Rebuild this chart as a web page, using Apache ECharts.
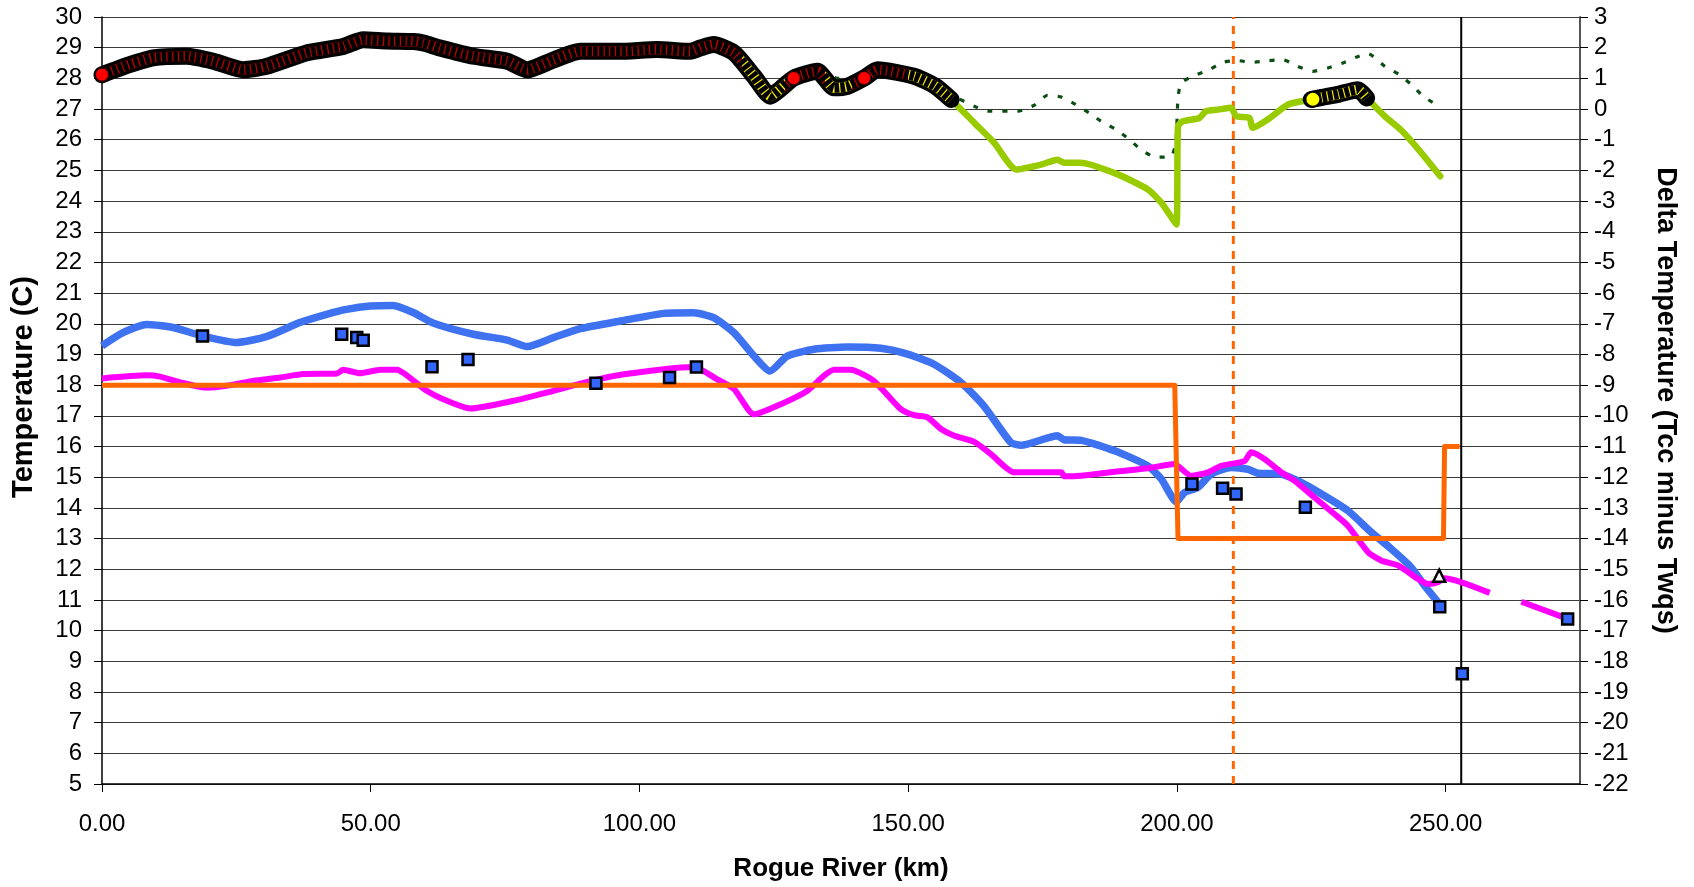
<!DOCTYPE html>
<html>
<head>
<meta charset="utf-8">
<title>Rogue River temperature profile</title>
<script src="https://cdn.jsdelivr.net/npm/echarts@6/dist/echarts.min.js"></script>
<style>
  html, body { margin: 0; padding: 0; background: #fff; }
  #chart { width: 1694px; height: 887px; }
</style>
</head>
<body>
<div id="chart"></div>
<script>
// River distance (km) and simulated temperature profiles (C)
const blueKm = [0, 3.9, 8.3, 13.2, 18.8, 25, 30.6, 36.8, 41.8, 45.5, 49.9, 54.2, 58, 61.7, 69.1, 75.4, 79.1, 84, 89, 96.5, 104.5, 110.1, 113.8, 117.6, 121.3, 124.3, 127.5, 132.5, 138.7, 144.9, 149.9, 154.8, 159.8, 164.1, 169.1, 171, 177.8, 179, 182.2, 188.4, 194.6, 197.1, 199.9, 201.4, 203.9, 206.4, 210.1, 213.2, 215.1, 219.4, 223.1, 226.9, 231.8, 236.2, 239.9, 243.6, 246.1, 248.6];
const blueTemp = [19.28, 19.71, 19.98, 19.88, 19.6, 19.39, 19.58, 20.04, 20.31, 20.47, 20.58, 20.6, 20.36, 20.02, 19.66, 19.47, 19.26, 19.55, 19.84, 20.09, 20.34, 20.36, 20.2, 19.71, 18.95, 18.46, 18.95, 19.17, 19.24, 19.2, 19.01, 18.68, 18.09, 17.32, 16.13, 16.04, 16.35, 16.22, 16.2, 15.86, 15.37, 14.94, 14.2, 14.5, 14.67, 15.1, 15.32, 15.26, 15.13, 15.1, 14.83, 14.45, 13.91, 13.2, 12.66, 12.06, 11.46, 10.92];

// Second profile; null marks the gap in coverage
const magentaKm = [0, 8.3, 10.8, 14.5, 19.5, 23.2, 28.1, 33.1, 37.5, 43.7, 44.9, 48, 51.8, 54.9, 56.7, 60.5, 64.2, 68.5, 76.6, 82.8, 89, 95.2, 104.5, 110.1, 114.5, 117.6, 121.3, 126.3, 131.2, 134.3, 136.2, 139.3, 143.6, 148.6, 151.1, 153.6, 156.1, 158.6, 162.3, 165.4, 169.7, 178.5, 179, 182.1, 188.4, 194.6, 199.5, 202.6, 205.8, 208.2, 212.6, 213.8, 216.3, 219.4, 221.9, 225.6, 229.3, 231.8, 235.6, 238.1, 241.2, 244.9, 246.7, 248.6, 249.8, 258.2, 261, 264.1, 272.5];
const magentaTemp = [18.22, 18.32, 18.28, 18.09, 17.92, 17.98, 18.14, 18.25, 18.36, 18.38, 18.5, 18.39, 18.5, 18.5, 18.32, 17.81, 17.49, 17.24, 17.49, 17.76, 18.05, 18.3, 18.52, 18.59, 18.19, 17.87, 17.05, 17.38, 17.81, 18.3, 18.5, 18.5, 18.14, 17.22, 17.02, 16.95, 16.57, 16.35, 16.15, 15.75, 15.16, 15.16, 15.03, 15.05, 15.18, 15.29, 15.43, 15.05, 15.16, 15.37, 15.53, 15.81, 15.59, 15.16, 14.88, 14.34, 13.8, 13.42, 12.55, 12.28, 12.12, 11.68, 11.52, 11.58, 11.71, 11.23, null, 10.94, 10.4];

// Temperature criterion by reach
const criterionKm = [0, 199.6, 200.2, 249.6, 249.8, 252.6];
const criterionTemp = [18, 18, 13, 13, 16, 16];

// Observed temperatures
const obsKm = [18.7, 44.6, 47.4, 48.6, 61.4, 68.1, 91.9, 105.6, 110.6, 202.8, 208.5, 211, 223.9, 248.9, 253.1, 272.7];
const obsTemp = [19.6, 19.66, 19.55, 19.46, 18.6, 18.84, 18.06, 18.25, 18.59, 14.78, 14.64, 14.45, 14.02, 10.78, 8.59, 10.38];
const obsOtherKm = [248.8];
const obsOtherTemp = [11.79];

// Delta temperature, Tcc minus Twqs (right axis)
const deltaKm = [0, 5.2, 9.5, 15.7, 20.7, 26.3, 30.6, 38.1, 44.9, 48.6, 53, 58, 59.8, 62.9, 69.1, 75.4, 79.1, 84, 89, 96.2, 103.3, 109.5, 111.5, 113.8, 117.6, 121.3, 124.4, 126.2, 128.7, 133.1, 136.2, 138.7, 141.8, 144.3, 151.1, 155, 158, 162.3, 166, 170.1, 174.7, 177.8, 179, 182.1, 189, 194.6, 197.1, 199.9, 200.2, 201.1, 204.2, 205.4, 207.6, 210.1, 211, 213.5, 214.1, 216.9, 220.7, 225, 227, 230, 233.7, 235.3, 238.7, 241.8, 245.4, 249];
const deltaTcc = [1.12, 1.45, 1.67, 1.72, 1.56, 1.28, 1.39, 1.83, 2.04, 2.26, 2.22, 2.2, 2.15, 1.99, 1.72, 1.56, 1.28, 1.6, 1.88, 1.88, 1.94, 1.88, 2.0, 2.1, 1.83, 1.07, 0.42, 0.65, 1.01, 1.23, 0.69, 0.74, 1.01, 1.28, 1.07, 0.75, 0.31, -0.45, -1.1, -1.97, -1.81, -1.65, -1.75, -1.75, -2.13, -2.62, -3.05, -3.76, -0.56, -0.4, -0.29, -0.07, -0.02, 0.04, -0.23, -0.29, -0.61, -0.34, 0.15, 0.31, 0.38, 0.48, 0.63, 0.36, -0.24, -0.7, -1.41, -2.19];
// Reaches where the delta points are flagged (km from, km to)
const flaggedReaches = [[0, 158], [225, 235.3]];
const redFlagKm = [0, 128.7, 141.8];
const redFlagDelta = [1.12, 1.01, 1.01];
const yellowFlagKm = [225.3];
const yellowFlagDelta = [0.32];

// Alternate delta run (right axis)
const altDeltaKm = [0, 10, 20, 26, 31, 38, 42, 48, 58, 63, 69, 75, 79, 84, 89, 103, 110, 113.8, 117.6, 121.3, 124.4, 128.7, 133, 137, 141.8, 144.3, 151.1, 155, 159.2, 162.3, 164.8, 170.4, 173.5, 175.9, 178.5, 181.1, 183.7, 185.9, 188.7, 191.2, 193.3, 196.1, 198.9, 199.8, 200.2, 200.8, 203.2, 206, 208.5, 211.3, 213.9, 216.8, 219.7, 222.5, 225.3, 228.1, 230.9, 233.5, 235.6, 238.7, 241.4, 243.6, 246, 248.8];
const altDelta = [1.2, 1.75, 1.65, 1.35, 1.5, 2.05, 2.15, 2.3, 2.25, 2.05, 1.8, 1.65, 1.35, 1.65, 1.95, 2.0, 1.95, 2.15, 1.9, 1.15, 0.5, 1.05, 1.3, 1.0, 1.1, 1.35, 1.15, 0.8, 0.36, 0.09, -0.07, -0.07, 0.13, 0.45, 0.39, 0.15, -0.13, -0.4, -0.67, -1.0, -1.32, -1.57, -1.54, -1.1, 0.36, 0.85, 1.09, 1.28, 1.52, 1.58, 1.52, 1.57, 1.61, 1.39, 1.23, 1.34, 1.5, 1.7, 1.8, 1.39, 1.12, 0.8, 0.39, 0.1];

// Reference stations (km)
const dashedStationKm = 210.5;
const solidStationKm = 252.9;

// Axis ranges
const xMin = 0, xMax = 275, xStep = 50;
const tempMin = 5, tempMax = 30;
const deltaMin = -22, deltaMax = 3;

const pairs = (xs, ys) => xs.map((x, i) => [x, ys[i]]);

// Flagged delta points, split into separate runs
const flaggedData = [];
flaggedReaches.forEach(([a, b], r) => {
  if (r > 0) flaggedData.push([(a + flaggedReaches[r - 1][1]) / 2, null]);
  deltaKm.forEach((k, i) => { if (k >= a && k <= b) flaggedData.push([k, deltaTcc[i]]); });
});

const FONT = '"Liberation Sans", Arial, sans-serif';
const RED = '#c00000', YELLOW = '#f5ea00';
const SMOOTH = 0.2;

const chart = echarts.init(document.getElementById('chart'), null, { renderer: 'canvas' });

chart.setOption({
  animation: false,
  backgroundColor: '#ffffff',
  textStyle: { fontFamily: FONT, color: '#000' },
  grid: { left: 102, right: 114, top: 17, bottom: 102, containLabel: false },
  graphic: [{
    type: 'text', rotation: Math.PI / 2, silent: true,
    x: 24, y: 387,
    style: {
      text: 'Temperature (C)', fill: '#000',
      font: 'bold 29px "Liberation Sans", Arial, sans-serif',
      align: 'center', verticalAlign: 'middle'
    }
  }],
  xAxis: {
    type: 'value', min: xMin, max: xMax, interval: xStep,
    name: 'Rogue River (km)', nameLocation: 'middle', nameGap: 72,
    nameTextStyle: { fontFamily: FONT, fontSize: 26, fontWeight: 'bold', color: '#000' },
    axisLine: { show: true, onZero: false, lineStyle: { color: '#000', width: 1.5 } },
    axisTick: { show: true, inside: false, length: 8, lineStyle: { color: '#000' } },
    axisLabel: {
      fontFamily: FONT, fontSize: 24, color: '#000', margin: 28, showMaxLabel: false,
      formatter: v => (v % xStep === 0 ? v.toFixed(2) : '')
    },
    splitLine: { show: false }
  },
  yAxis: [
    {
      type: 'value', min: tempMin, max: tempMax, interval: 1, position: 'left',
      axisLine: { show: true, lineStyle: { color: '#000', width: 1.5 } },
      axisTick: { show: true, inside: false, length: 8, lineStyle: { color: '#000' } },
      axisLabel: { fontFamily: FONT, fontSize: 24, color: '#000', margin: 20 },
      splitLine: { show: true, lineStyle: { color: '#3a3a3a', width: 1.2 } }
    },
    {
      type: 'value', min: deltaMin, max: deltaMax, interval: 1, position: 'right',
      name: 'Delta Temperature (Tcc minus Twqs)', nameLocation: 'middle', nameGap: 72, nameRotate: -90,
      nameTextStyle: { fontFamily: FONT, fontSize: 27, fontWeight: 'bold', color: '#000' },
      axisLine: { show: true, lineStyle: { color: '#555', width: 2 } },
      axisTick: { show: true, inside: false, length: 8, lineStyle: { color: '#000' } },
      axisLabel: { fontFamily: FONT, fontSize: 24, color: '#000', margin: 14 },
      splitLine: { show: false }
    }
  ],
  visualMap: {
    type: 'piecewise', show: false, dimension: 0, seriesIndex: 10,
    pieces: [
      { lt: 119, color: RED },
      { gte: 119, lt: 127, color: YELLOW },
      { gte: 127, lt: 134.5, color: RED },
      { gte: 134.5, lt: 139.5, color: YELLOW },
      { gte: 139.5, lt: 150, color: RED },
      { gte: 150, color: YELLOW }
    ]
  },
  series: [
    { // 0 station reference, dashed
      type: 'line', yAxisIndex: 0, showSymbol: false, silent: true, z: 2,
      data: [[dashedStationKm, tempMin], [dashedStationKm, tempMax]],
      lineStyle: { color: '#ff6600', width: 3, type: [8, 7] }
    },
    { // 1 station reference, solid
      type: 'line', yAxisIndex: 0, showSymbol: false, silent: true, z: 2,
      data: [[solidStationKm, tempMin], [solidStationKm, tempMax]],
      lineStyle: { color: '#000', width: 2 }
    },
    { // 2 blue profile
      type: 'line', yAxisIndex: 0, showSymbol: false, z: 3, smooth: SMOOTH,
      data: pairs(blueKm, blueTemp),
      lineStyle: { color: '#3f72f0', width: 7.5, join: 'round' }
    },
    { // 3 magenta profile
      type: 'line', yAxisIndex: 0, showSymbol: false, connectNulls: false, z: 4, smooth: SMOOTH,
      data: pairs(magentaKm, magentaTemp),
      lineStyle: { color: '#ff00ff', width: 6, join: 'round' }
    },
    { // 4 criterion
      type: 'line', yAxisIndex: 0, showSymbol: false, z: 5,
      data: pairs(criterionKm, criterionTemp),
      lineStyle: { color: '#ff6600', width: 5, join: 'round' }
    },
    { // 5 observed
      type: 'scatter', yAxisIndex: 0, symbol: 'rect', symbolSize: 11, z: 8,
      data: pairs(obsKm, obsTemp),
      itemStyle: { color: '#3366ff', borderColor: '#000', borderWidth: 2.5, opacity: 1 }
    },
    { // 6 other observation
      type: 'scatter', yAxisIndex: 0, symbol: 'triangle', symbolSize: 12, z: 8,
      data: pairs(obsOtherKm, obsOtherTemp),
      itemStyle: { color: '#ffffff', borderColor: '#000', borderWidth: 2.5, opacity: 1 }
    },
    { // 7 alternate delta
      type: 'line', yAxisIndex: 1, showSymbol: false, z: 5, smooth: SMOOTH,
      data: pairs(altDeltaKm, altDelta),
      lineStyle: { color: '#0b4d12', width: 3.2, type: [5, 10] }
    },
    { // 8 delta
      type: 'line', yAxisIndex: 1, showSymbol: false, z: 6, smooth: SMOOTH,
      data: pairs(deltaKm, deltaTcc),
      lineStyle: { color: '#99cc00', width: 6.5, join: 'round', cap: 'round' }
    },
    { // 9 flagged delta points: black marker outlines
      type: 'line', yAxisIndex: 1, showSymbol: false, connectNulls: false, z: 7, smooth: SMOOTH,
      data: flaggedData,
      lineStyle: { color: '#000', width: 17, cap: 'round', join: 'round' }
    },
    { // 10 flagged delta points: marker fill showing between outlines
      type: 'line', yAxisIndex: 1, showSymbol: false, connectNulls: false, z: 7, smooth: SMOOTH,
      data: flaggedData,
      lineStyle: { width: 10, cap: 'butt', join: 'round' }
    },
    { // 11 overlapping marker rims
      type: 'line', yAxisIndex: 1, showSymbol: false, connectNulls: false, z: 7, smooth: SMOOTH,
      data: flaggedData,
      lineStyle: { color: '#000', width: 10, type: [4.5, 1.2], cap: 'butt', join: 'round' }
    },
    { // 12 red flags
      type: 'scatter', yAxisIndex: 1, symbol: 'circle', symbolSize: 13, z: 9,
      data: pairs(redFlagKm, redFlagDelta),
      itemStyle: { color: '#ff0000', borderColor: '#300000', borderWidth: 1, opacity: 1 }
    },
    { // 13 yellow flags
      type: 'scatter', yAxisIndex: 1, symbol: 'circle', symbolSize: 15, z: 9,
      data: pairs(yellowFlagKm, yellowFlagDelta),
      itemStyle: { color: '#ffff00', borderColor: '#000', borderWidth: 2, opacity: 1 }
    }
  ]
});
</script>
</body>
</html>
